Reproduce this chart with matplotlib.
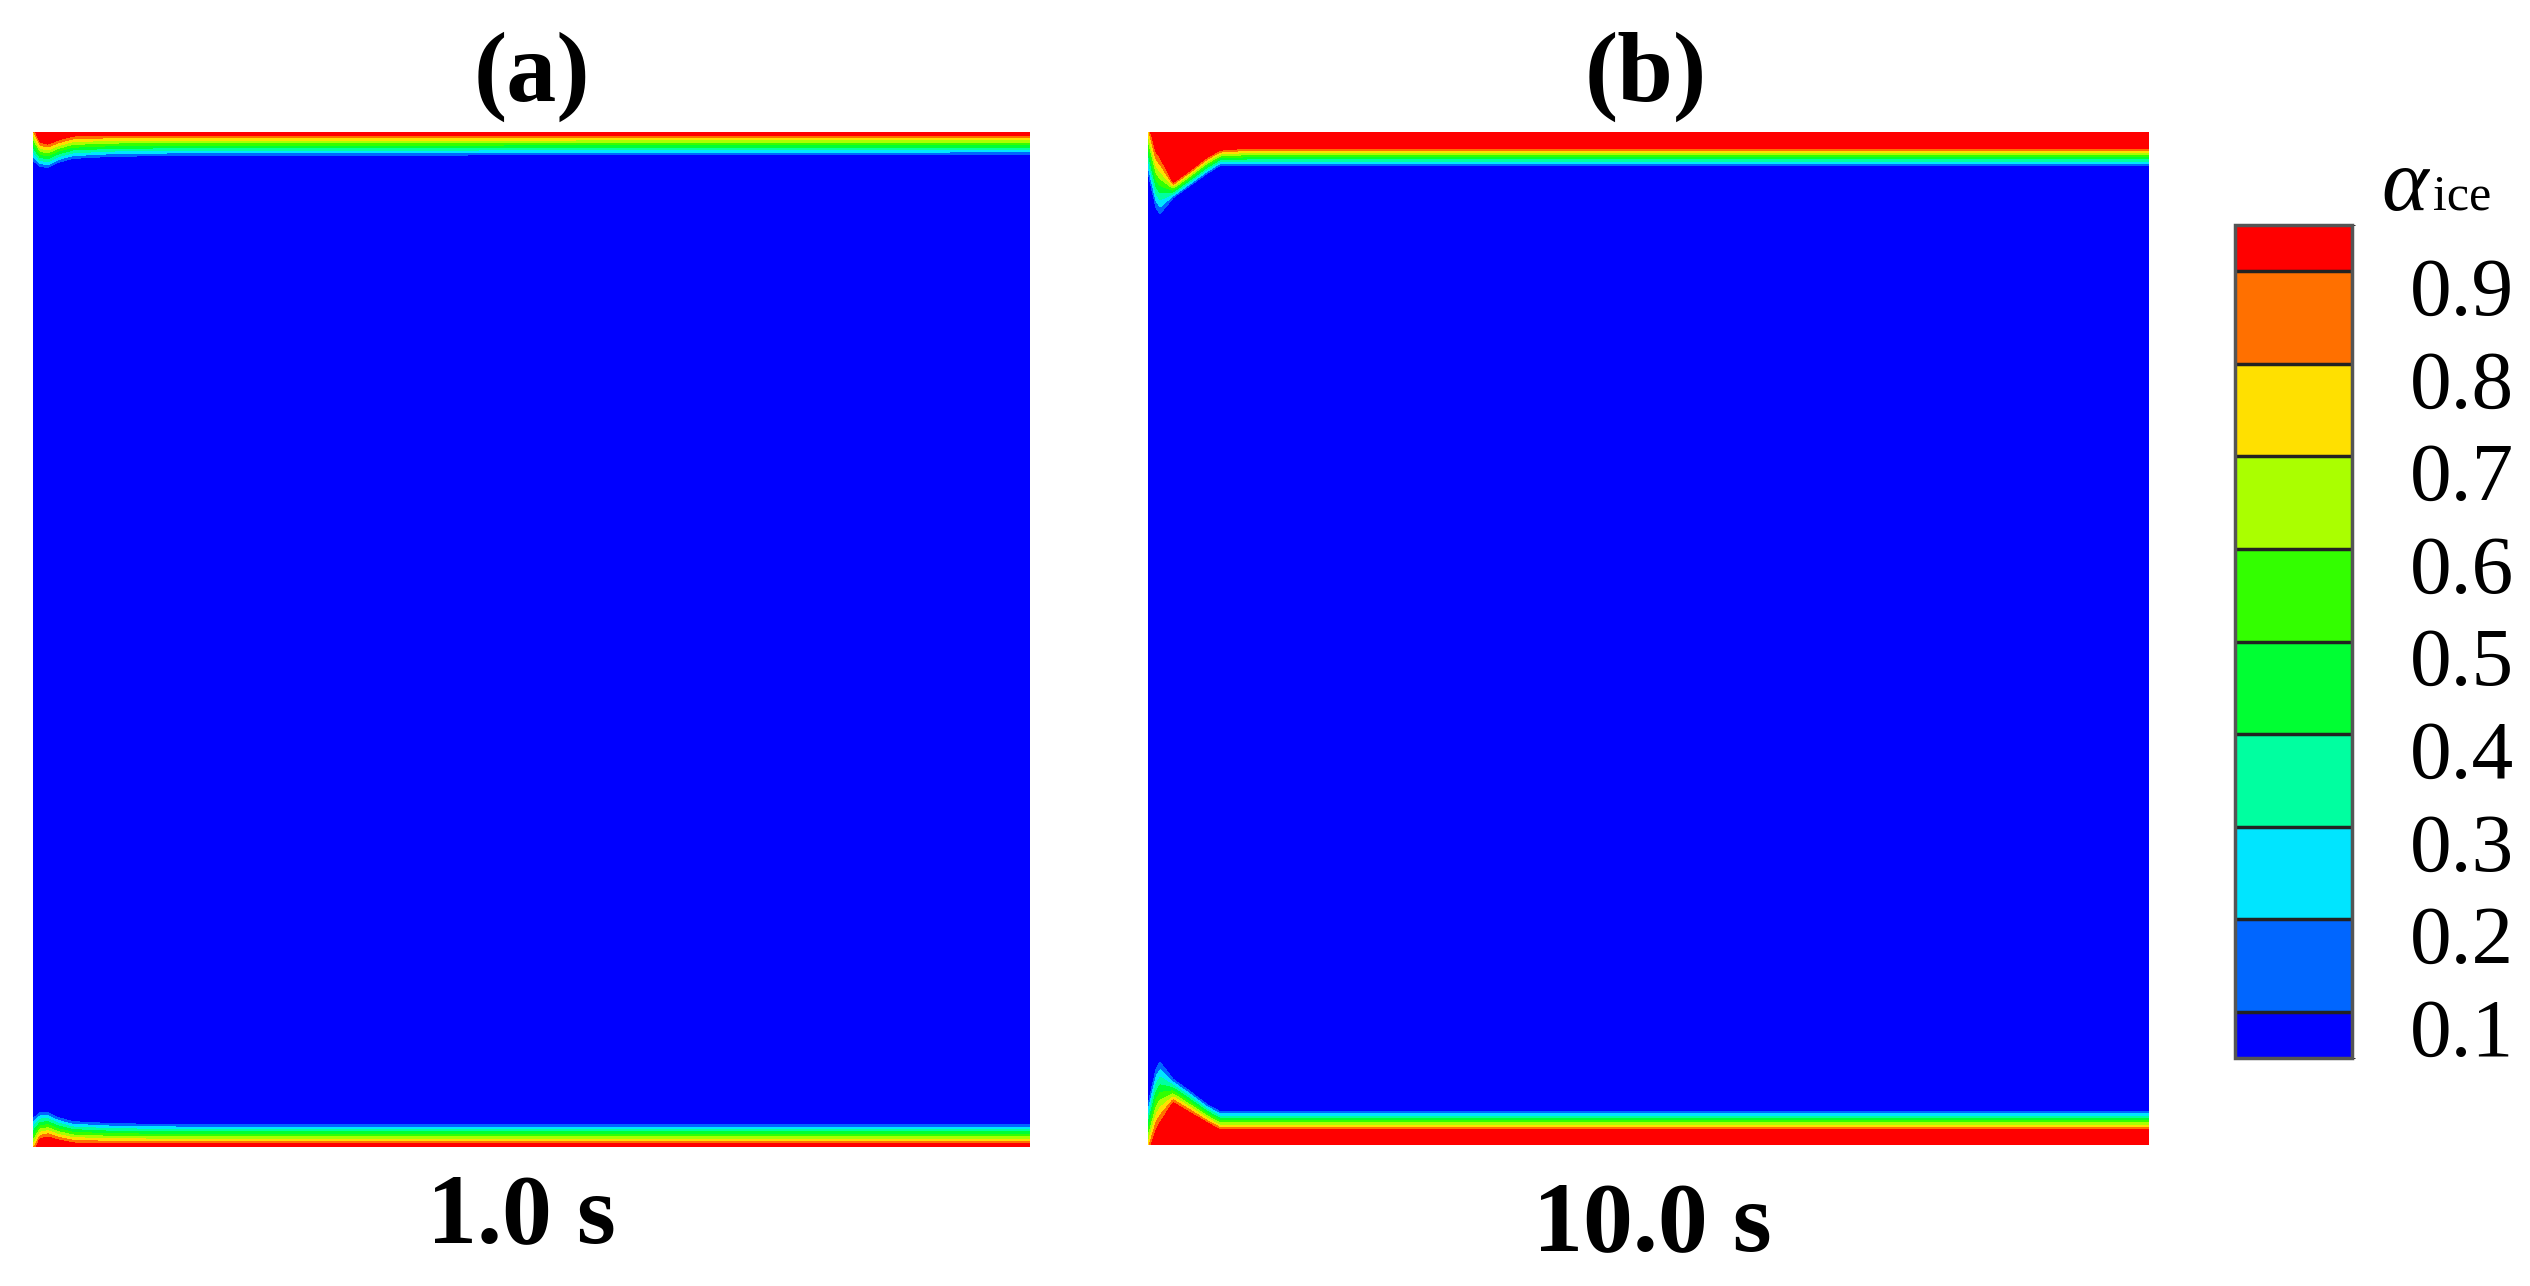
import numpy as np
import matplotlib.pyplot as plt
from matplotlib.colors import ListedColormap, BoundaryNorm
from matplotlib.cm import ScalarMappable
import matplotlib.transforms as mtransforms

plt.rcParams['font.family'] = ['Liberation Serif', 'DejaVu Serif']

# contour levels and band colours of alpha_ice
levels = [0.0, 0.1, 0.2, 0.3, 0.4, 0.5, 0.6, 0.7, 0.8, 0.9, 1.0]
band_colors = ['#0000ff', '#0066ff', '#00e5ff', '#00ffa0', '#00ff33',
               '#33ff00', '#aaff00', '#ffe000', '#ff7000', '#ff0000']
cbar_bounds = [0.05, 0.1, 0.2, 0.3, 0.4, 0.5, 0.6, 0.7, 0.8, 0.9, 0.95]
tick_vals = [0.1, 0.2, 0.3, 0.4, 0.5, 0.6, 0.7, 0.8, 0.9]

panel_tags = ['(a)', '(b)']
time_labels = ['1.0 s', '10.0 s']

# ice layer: x station (fraction of width) and
# wall distance (fraction of height) where alpha = 0.9 and alpha = 0.1
a_x = [0.0, 0.007, 0.015, 0.025, 0.040, 0.080, 0.15, 1.0]
a_top_d90 = [-0.006, 0.010, 0.012, 0.008, 0.004, 0.003, 0.003, 0.003]
a_top_d10 = [0.028, 0.034, 0.035, 0.030, 0.026, 0.024, 0.023, 0.022]
a_bot_d90 = [-0.006, 0.008, 0.010, 0.007, 0.004, 0.003, 0.003, 0.003]
a_bot_d10 = [0.028, 0.034, 0.034, 0.029, 0.025, 0.023, 0.022, 0.022]

b_x = [0.0, 0.008, 0.012, 0.025, 0.042, 0.059, 0.072, 0.10, 1.0]
b_top_d90 = [-0.010, 0.020, 0.025, 0.050, 0.038, 0.025, 0.018, 0.016, 0.016]
b_top_d10 = [0.040, 0.075, 0.081, 0.065, 0.053, 0.041, 0.033, 0.033, 0.033]
b_bot_d90 = [-0.010, 0.015, 0.022, 0.042, 0.032, 0.022, 0.015, 0.015, 0.015]
b_bot_d10 = [0.040, 0.075, 0.082, 0.065, 0.053, 0.040, 0.033, 0.033, 0.033]


def ice_field(xs, top90, top10, bot90, bot10, n=900):
    x = np.linspace(0, 1, n)
    y = np.linspace(0, 1, n)
    X, Y = np.meshgrid(x, y)
    t90 = np.interp(X, xs, top90)
    t10 = np.interp(X, xs, top10)
    b90 = np.interp(X, xs, bot90)
    b10 = np.interp(X, xs, bot10)
    top = 0.9 - 0.8 * ((1 - Y) - t90) / (t10 - t90)
    bot = 0.9 - 0.8 * (Y - b90) / (b10 - b90)
    return X, Y, np.clip(np.maximum(top, bot), 0.0, 0.999)


cmap = ListedColormap(band_colors)
norm = BoundaryNorm(levels, cmap.N)
cb_norm = BoundaryNorm(cbar_bounds, cmap.N)

W, H = 2530, 1286
fig = plt.figure(figsize=(W / 100, H / 100), dpi=100)


def px_axes(x0, y0, x1, y1):
    return fig.add_axes([x0 / W, 1 - y1 / H, (x1 - x0) / W, (y1 - y0) / H])


ax_a = px_axes(33, 132, 1030, 1147)
ax_b = px_axes(1148, 132, 2149, 1145)

fields = [ice_field(a_x, a_top_d90, a_top_d10, a_bot_d90, a_bot_d10),
          ice_field(b_x, b_top_d90, b_top_d10, b_bot_d90, b_bot_d10)]

for ax, (X, Y, Z) in zip([ax_a, ax_b], fields):
    ax.contourf(X, Y, Z, levels=levels, cmap=cmap, norm=norm)
    ax.set_xlim(0, 1)
    ax.set_ylim(0, 1)
    ax.set_axis_off()

# panel tags and times
fig.text(532 / W, 1 - 101 / H, panel_tags[0], ha='center', va='baseline',
         fontsize=72, fontweight='bold')
fig.text(1646 / W, 1 - 101 / H, panel_tags[1], ha='center', va='baseline',
         fontsize=72, fontweight='bold')
fig.text(521 / W, 1 - 1242 / H, time_labels[0], ha='center', va='baseline',
         fontsize=72, fontweight='bold')
fig.text(1652 / W, 1 - 1250 / H, time_labels[1], ha='center', va='baseline',
         fontsize=72, fontweight='bold')

# colour bar: half bands at both ends, labels on the band edges
cax = px_axes(2235, 225, 2352, 1058)
sm = ScalarMappable(norm=cb_norm, cmap=cmap)
cb = fig.colorbar(sm, cax=cax, ticks=tick_vals, spacing='proportional',
                  drawedges=True)
cb.dividers.set_color('#222222')
cb.dividers.set_linewidth(2.5)
cb.outline.set_edgecolor('#555555')
cb.outline.set_linewidth(2.5)
cb.ax.tick_params(length=0, pad=42, labelsize=60)
cb.ax.set_yticklabels([f'{v:.1f}' for v in tick_vals])
shift = mtransforms.ScaledTranslation(0, -15 / 100, fig.dpi_scale_trans)
for lab in cb.ax.get_yticklabels():
    lab.set_transform(lab.get_transform() + shift)

fig.text(2381 / W, 1 - 210 / H, 'α', ha='left', va='baseline',
         fontsize=64, style='italic')
fig.text(2433 / W, 1 - 210 / H, 'ice', ha='left', va='baseline', fontsize=36)

fig.savefig('out.png', dpi=100)
